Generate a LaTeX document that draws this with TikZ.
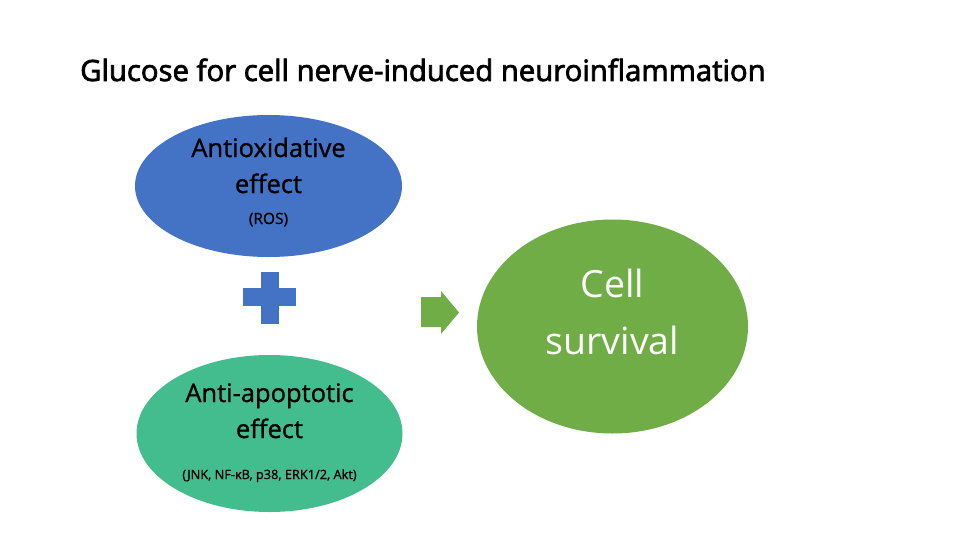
\documentclass[tikz,border=0pt]{standalone}
\usepackage{fontspec}
\setmainfont{Open Sans}
\newfontfamily\titlefont[FakeBold=2.5]{Open Sans}
\newfontfamily\medfont[FakeBold=1]{Open Sans}
\definecolor{blueA}{HTML}{4472C4}
\definecolor{greenB}{HTML}{44BD8E}
\definecolor{greenC}{HTML}{70AD47}
\usetikzlibrary{shapes.geometric}
\tikzset{
  blob/.style={ellipse, inner sep=0pt},
  lbl/.style={anchor=base, inner sep=0pt},
}
\begin{document}
\begin{tikzpicture}[x=1pt,y=-1pt]
\useasboundingbox[fill=white] (0,0) rectangle (980,551);
% title
\node[anchor=base west, inner sep=0pt] (title) at (80,81) {\titlefont\fontsize{29.3}{33}\selectfont Glucose for cell nerve-induced neuroinflammation};
% top ellipse
\node[blob, fill=blueA, minimum width=267pt, minimum height=142pt] (anti) at (268.5,186) {};
\node[lbl] (antiA) at (268.5,157) {\medfont\fontsize{25.5}{28}\selectfont Antioxidative};
\node[lbl] (antiB) at (268.5,193) {\medfont\fontsize{25.5}{28}\selectfont effect};
\node[lbl] (antiC) at (268.5,224) {\medfont\fontsize{15.5}{18}\selectfont (ROS)};
% plus
\fill[blueA] (260.5,272) rectangle (278.5,324);
\fill[blueA] (243,288) rectangle (296,306);
\coordinate (plus) at (269.5,298);
% bottom ellipse
\node[blob, fill=greenB, minimum width=266pt, minimum height=157pt] (apo) at (269.5,433.5) {};
\node[lbl] (apoA) at (269.5,402) {\medfont\fontsize{25.5}{28}\selectfont Anti-apoptotic};
\node[lbl] (apoB) at (269.5,438) {\medfont\fontsize{25.5}{28}\selectfont effect};
\node[lbl] (apoC) at (269.5,479) {\medfont\fontsize{12.8}{15}\selectfont (JNK, NF-κB, p38, ERK1/2, Akt)};
% arrow
\fill[greenC] (421,297) -- (441,297) -- (441,291) -- (459,312.5) -- (441,334) -- (441,327) -- (421,327) -- cycle;
% cell survival
\node[blob, fill=greenC, minimum width=271pt, minimum height=214pt] (cell) at (612.5,326.5) {};
\node[lbl, text=white] (cellA) at (612.5,297) {\fontsize{37.5}{40}\selectfont Cell};
\node[lbl, text=white] (cellB) at (612.5,354) {\fontsize{37.5}{40}\selectfont survival};
\end{tikzpicture}
\end{document}
